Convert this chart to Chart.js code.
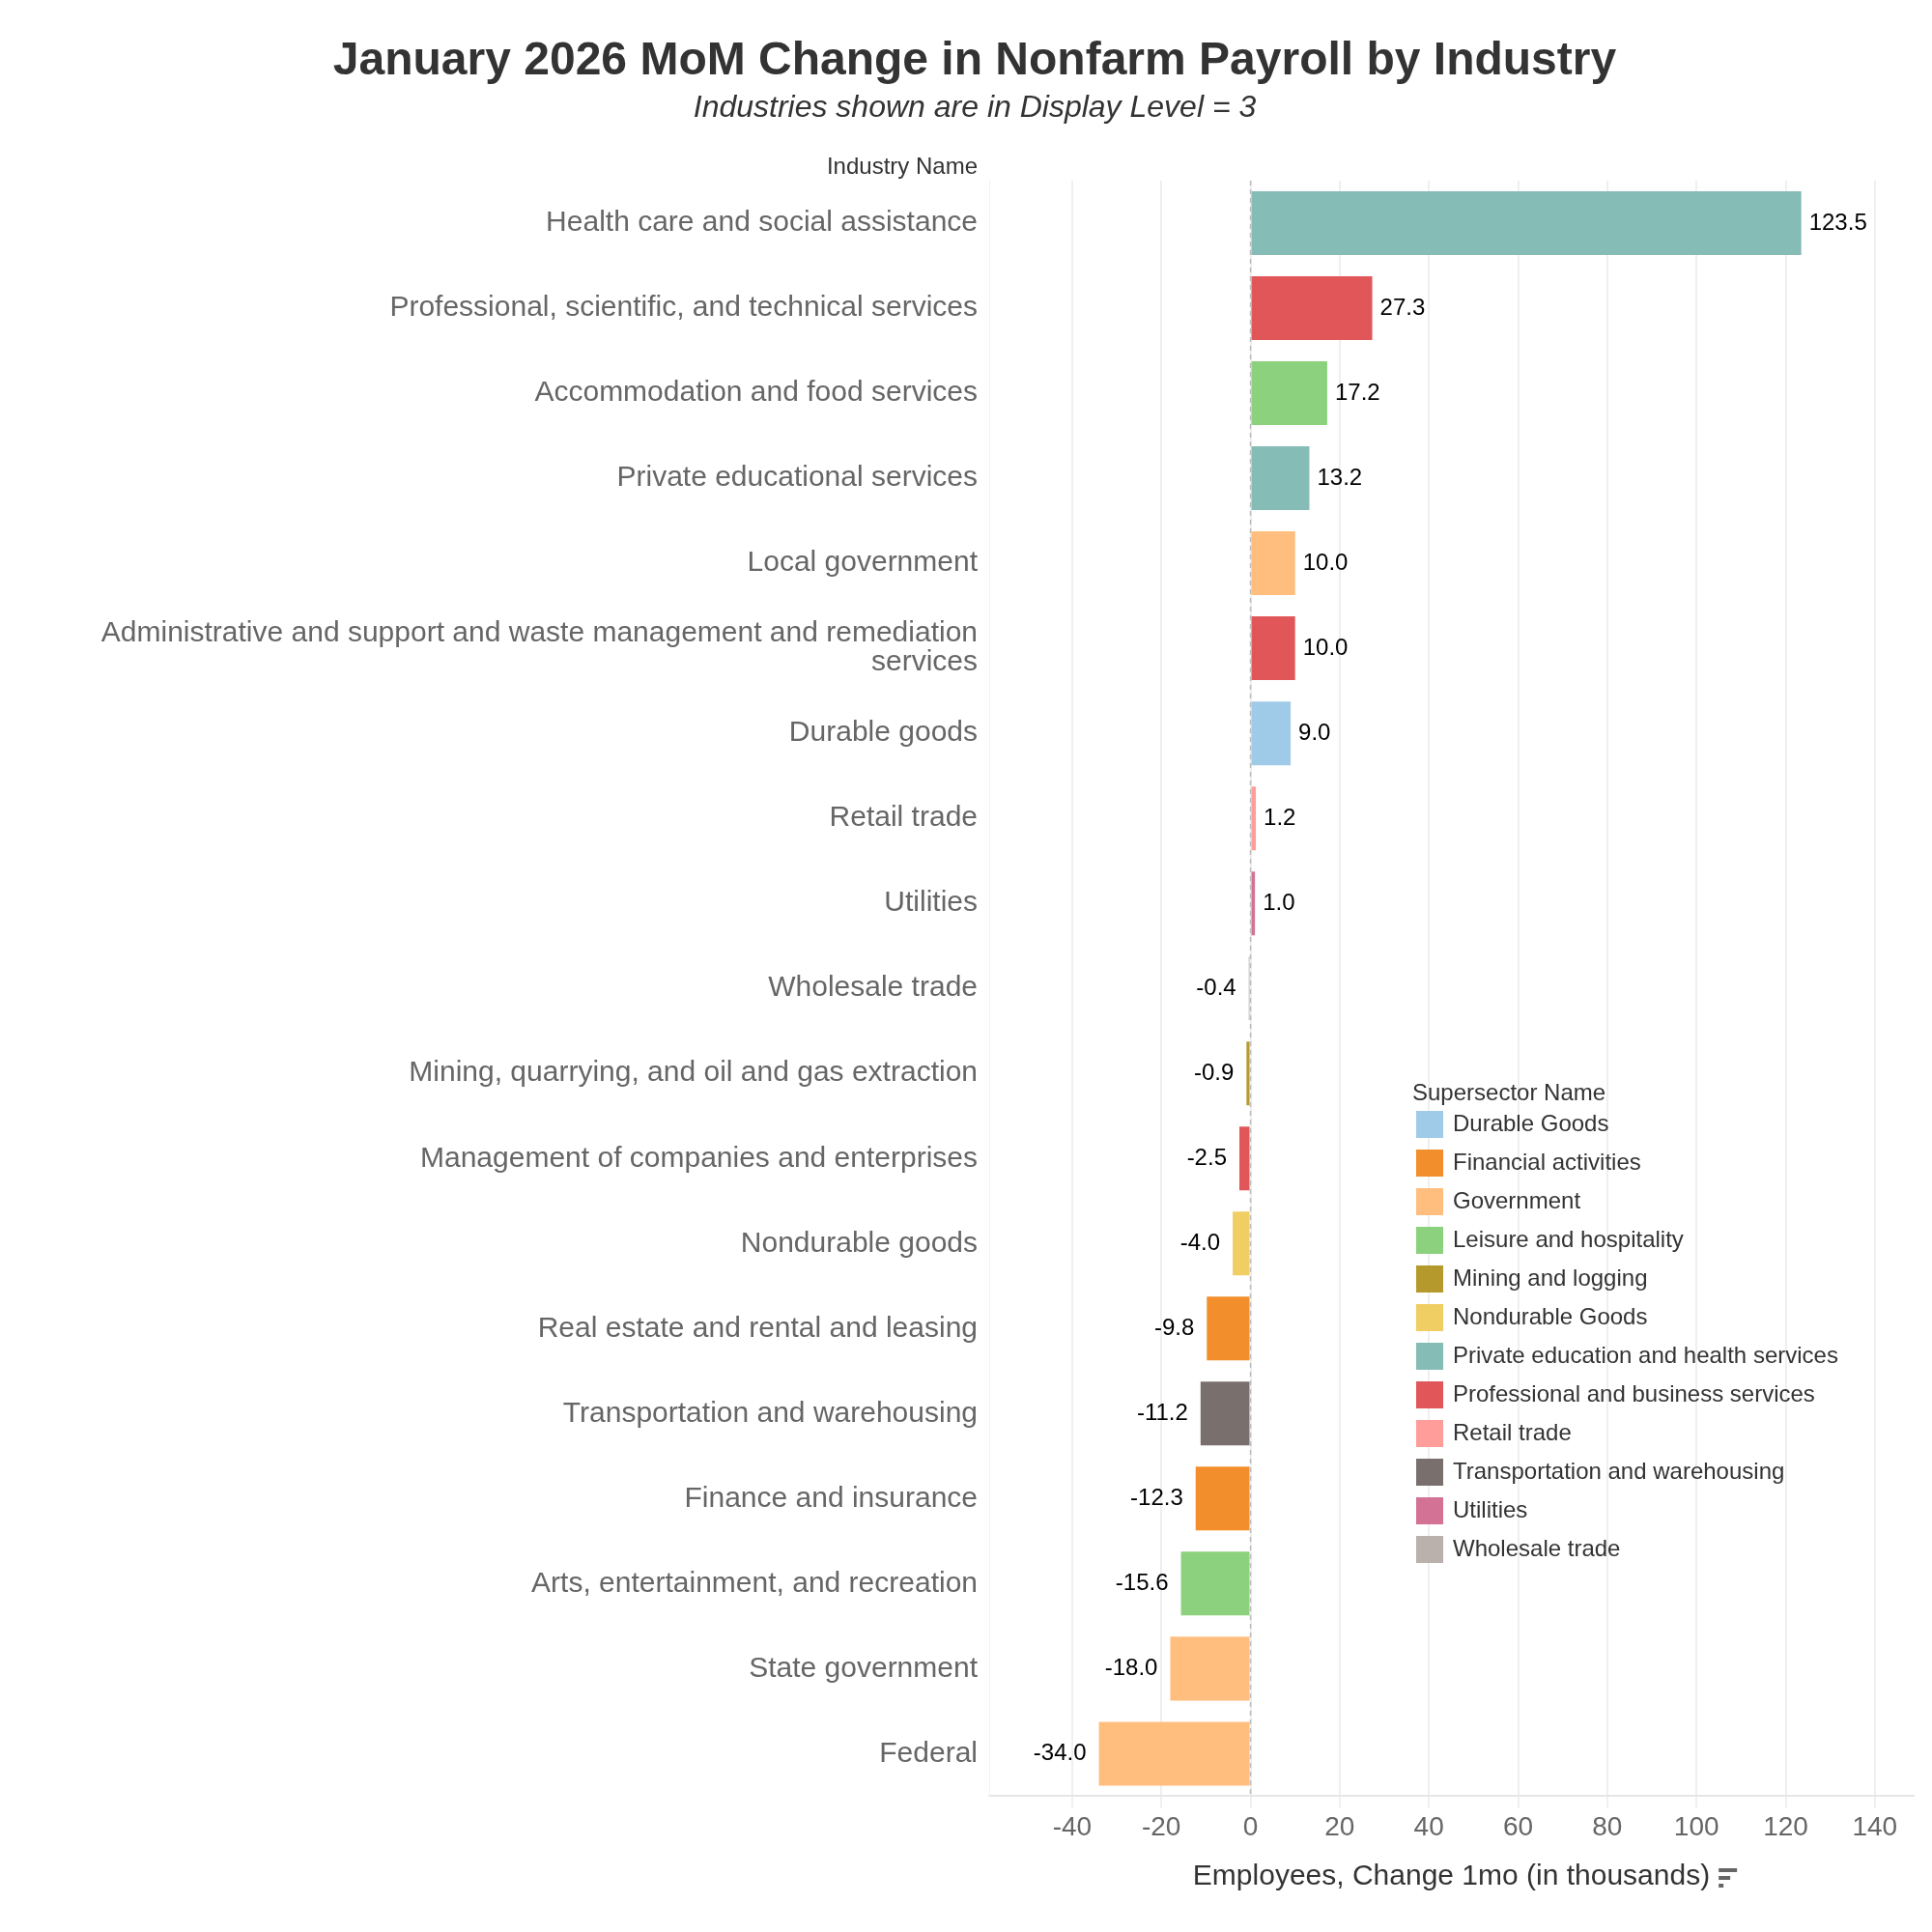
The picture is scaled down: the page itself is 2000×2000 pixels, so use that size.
<!DOCTYPE html>
<html>
<head>
<meta charset="utf-8">
<title>January 2026 MoM Change in Nonfarm Payroll by Industry</title>
<script src="https://cdn.jsdelivr.net/npm/chart.js@4.4.1/dist/chart.umd.min.js"></script>
<style>
  html, body { margin: 0; padding: 0; background: #fff; }
  #wrap { width: 2000px; height: 2000px; }
</style>
</head>
<body>
<div id="wrap"><canvas id="payrollChart" width="2000" height="2000"></canvas></div>
<script>
// Data
const industries = [
  'Health care and social assistance',
  'Professional, scientific, and technical services',
  'Accommodation and food services',
  'Private educational services',
  'Local government',
  ['Administrative and support and waste management and remediation', 'services'],
  'Durable goods',
  'Retail trade',
  'Utilities',
  'Wholesale trade',
  'Mining, quarrying, and oil and gas extraction',
  'Management of companies and enterprises',
  'Nondurable goods',
  'Real estate and rental and leasing',
  'Transportation and warehousing',
  'Finance and insurance',
  'Arts, entertainment, and recreation',
  'State government',
  'Federal'
];
const changes = [123.5, 27.3, 17.2, 13.2, 10.0, 10.0, 9.0, 1.2, 1.0, -0.4, -0.9, -2.5, -4.0, -9.8, -11.2, -12.3, -15.6, -18.0, -34.0];
const supersectorOf = [
  'Private education and health services',
  'Professional and business services',
  'Leisure and hospitality',
  'Private education and health services',
  'Government',
  'Professional and business services',
  'Durable Goods',
  'Retail trade',
  'Utilities',
  'Wholesale trade',
  'Mining and logging',
  'Professional and business services',
  'Nondurable Goods',
  'Financial activities',
  'Transportation and warehousing',
  'Financial activities',
  'Leisure and hospitality',
  'Government',
  'Government'
];
const supersectors = [
  'Durable Goods', 'Financial activities', 'Government', 'Leisure and hospitality',
  'Mining and logging', 'Nondurable Goods', 'Private education and health services',
  'Professional and business services', 'Retail trade', 'Transportation and warehousing',
  'Utilities', 'Wholesale trade'
];
const supersectorColors = [
  '#a0cbe8', '#f28e2b', '#ffbe7d', '#8cd17d',
  '#b6992d', '#f1ce63', '#86bcb6',
  '#e15759', '#ff9d9a', '#79706e',
  '#d37295', '#bab0ac'
];
const xTicks = [-40, -20, 0, 20, 40, 60, 80, 100, 120, 140];

const FONT = '"Liberation Sans", Arial, Helvetica, sans-serif';
const barColors = supersectorOf.map(s => supersectorColors[supersectors.indexOf(s)]);

// Value labels, zero line, "Industry Name" header, legend and sort icon
const extrasPlugin = {
  id: 'extras',
  afterDatasetsDraw(chart) {
    const ctx = chart.ctx;
    const area = chart.chartArea;
    const x = chart.scales.x;
    const x0 = x.getPixelForValue(0);

    // dashed zero line
    ctx.save();
    ctx.strokeStyle = '#bdbdbd';
    ctx.lineWidth = 1.5;
    ctx.setLineDash([5, 4]);
    ctx.beginPath();
    ctx.moveTo(x0, area.top);
    ctx.lineTo(x0, area.bottom);
    ctx.stroke();
    ctx.restore();

    // value labels
    const meta = chart.getDatasetMeta(0);
    ctx.save();
    ctx.font = '24px ' + FONT;
    ctx.fillStyle = '#000';
    ctx.textBaseline = 'middle';
    meta.data.forEach((bar, i) => {
      const v = changes[i];
      if (v >= 0) {
        ctx.textAlign = 'left';
        ctx.fillText(v.toFixed(1), bar.x + 8, bar.y);
      } else {
        ctx.textAlign = 'right';
        ctx.fillText(v.toFixed(1), bar.x - 13, bar.y);
      }
    });
    ctx.restore();
  },
  afterDraw(chart) {
    const ctx = chart.ctx;
    const area = chart.chartArea;

    // y axis header
    ctx.save();
    ctx.font = '24px ' + FONT;
    ctx.fillStyle = '#333';
    ctx.textAlign = 'right';
    ctx.textBaseline = 'middle';
    ctx.fillText('Industry Name', area.left - 12, area.top - 14);
    ctx.restore();

    // legend
    const lx = area.left + 438;
    let ly = area.top + 945;
    ctx.save();
    ctx.font = '24px ' + FONT;
    ctx.fillStyle = '#333';
    ctx.textAlign = 'left';
    ctx.textBaseline = 'middle';
    ctx.fillText('Supersector Name', lx, ly);
    ly += 32;
    supersectors.forEach((name, i) => {
      ctx.fillStyle = supersectorColors[i];
      ctx.fillRect(lx + 4, ly - 14, 28, 28);
      ctx.fillStyle = '#333';
      ctx.fillText(name, lx + 42, ly);
      ly += 40;
    });
    ctx.restore();

    // sort icon next to the x axis title
    const xs = chart.scales.x;
    ctx.save();
    ctx.font = '30px ' + FONT;
    const tw = ctx.measureText('Employees, Change 1mo (in thousands)').width;
    const cx = (xs.left + xs.right) / 2;
    const ix = cx + tw / 2 + 9;
    const iy = 1934;
    ctx.fillStyle = '#666';
    ctx.fillRect(ix, iy, 19, 4);
    ctx.fillRect(ix, iy + 8, 12, 4);
    ctx.fillRect(ix, iy + 16, 5, 4);
    ctx.restore();
  }
};

const ctx = document.getElementById('payrollChart').getContext('2d');

const payrollChart = new Chart(ctx, {
  type: 'bar',
  data: {
    labels: industries,
    datasets: [{
      data: changes,
      backgroundColor: barColors,
      borderWidth: 0,
      barPercentage: 0.75,
      categoryPercentage: 1.0
    }]
  },
  options: {
    indexAxis: 'y',
    responsive: false,
    animation: false,
    devicePixelRatio: 1,
    layout: {
      padding: { left: 37, right: 19, top: 0, bottom: 39 }
    },
    scales: {
      x: {
        min: -58.6,
        max: 148.7,
        afterBuildTicks(scale) {
          scale.ticks = xTicks.map(v => ({ value: v }));
        },
        grid: {
          color: '#efefef',
          lineWidth: 2,
          tickLength: 12,
          tickColor: '#efefef'
        },
        border: { display: true, color: '#e6e6e6', width: 2 },
        ticks: {
          color: '#666',
          padding: 4,
          font: { family: FONT, size: 28 }
        },
        title: {
          display: true,
          text: 'Employees, Change 1mo (in thousands)',
          color: '#333',
          padding: { top: 12, bottom: 0 },
          font: { family: FONT, size: 30 }
        }
      },
      y: {
        afterFit(scale) {
          scale.width = 987;
        },
        grid: { display: false, drawTicks: false },
        border: { display: true, color: '#f2f2f2', width: 1 },
        ticks: {
          color: '#666',
          padding: 12,
          autoSkip: false,
          font: { family: FONT, size: 30, lineHeight: 1.0 }
        }
      }
    },
    plugins: {
      legend: { display: false },
      tooltip: { enabled: false },
      title: {
        display: true,
        text: 'January 2026 MoM Change in Nonfarm Payroll by Industry',
        color: '#333',
        padding: { top: 35, bottom: 0 },
        font: { family: FONT, size: 48, weight: 'bold' }
      },
      subtitle: {
        display: true,
        text: 'Industries shown are in Display Level = 3',
        color: '#333',
        padding: { top: 0, bottom: 56 },
        font: { family: FONT, size: 32, style: 'italic' }
      }
    }
  },
  plugins: [extrasPlugin]
});
</script>
</body>
</html>
